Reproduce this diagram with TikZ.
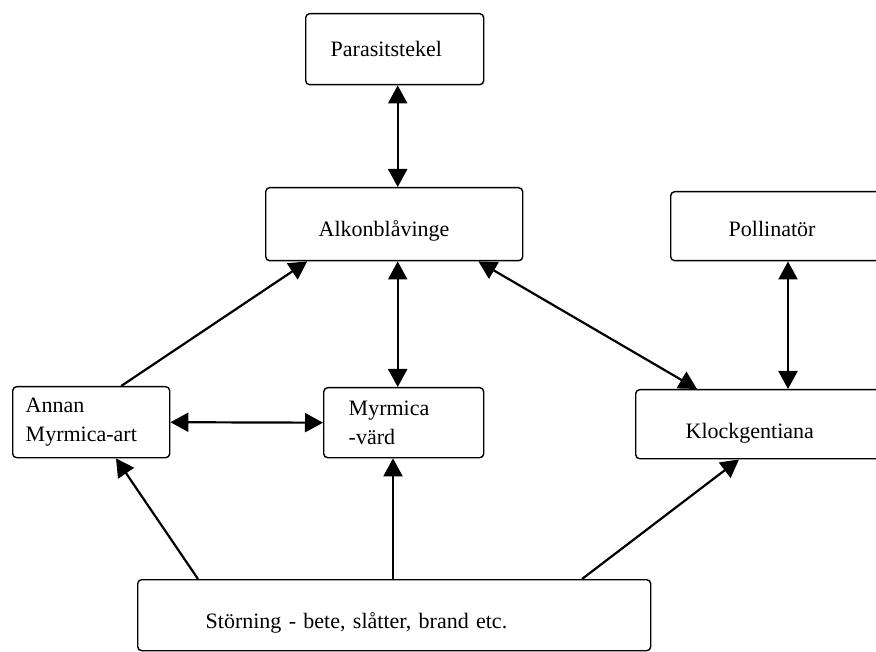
\documentclass[tikz,border=0pt]{standalone}
\usepackage{fontspec}
\setmainfont{Liberation Serif}
\usetikzlibrary{arrows.meta, positioning, calc}

\begin{document}
\begin{tikzpicture}[
  x=1pt, y=-1pt,
  box/.style={rectangle, draw, line width=1.4pt, rounded corners=4pt,
              anchor=north west, align=left, inner ysep=0pt,
              font=\fontsize{22}{29}\selectfont},
  arrow/.style={-{Triangle[length=18pt,width=19pt]}, line width=2.2pt},
  both/.style={{Triangle[length=18pt,width=19pt]}-{Triangle[length=18pt,width=19pt]},
               line width=2.2pt}
]
\clip (0,0) rectangle (876,652);

\node[box, minimum height=71pt, text width=128pt, inner xsep=25pt] (para) at (305,13) {Parasitstekel};
\node[box, minimum height=73pt, text width=151pt, inner xsep=53pt,
      text height=30pt, text depth=5pt] (alkon) at (265,187) {Alkonblåvinge};
\node[box, minimum height=69pt, text width=134pt, inner xsep=58pt,
      text height=26pt, text depth=5pt] (polli) at (670,191) {Pollinatör};
\node[box, minimum height=71pt, text width=131pt, inner xsep=13pt] (annan) at (12,386) {Annan\\Myrmica-art};
\node[box, minimum height=70pt, text width=110pt, inner xsep=25pt] (myr) at (323,387) {Myrmica\\-värd};
\node[box, minimum height=69pt, text width=205pt, inner xsep=50pt,
      text height=33pt, text depth=5pt] (klock) at (635,389) {Klockgentiana};
\node[box, minimum height=71pt, text width=377pt, inner xsep=68pt,
      text height=32pt, text depth=5pt] (storn) at (137,579) {Störning - bete, slåtter, brand etc.};

\draw[both] ([xshift=3pt]para.south) -- ([xshift=3pt]para.south |- alkon.north);
\draw[both] ([xshift=3.5pt]alkon.south) -- ([xshift=3.5pt]alkon.south |- myr.north);
\draw[arrow] ([xshift=30pt]annan.north) -- ([xshift=-87pt]alkon.south);
\draw[both] ([xshift=-45pt]alkon.south east) -- ([xshift=62pt]klock.north west);
\draw[both] ([xshift=118pt]polli.south west) -- ([xshift=153pt]klock.north west);
\draw[both] (annan.east) -- (myr.west);
\draw[arrow] ([xshift=61pt]storn.north west) -- ([xshift=104pt]annan.south west);
\draw[arrow] ([xshift=256pt]storn.north west) -- ([xshift=256pt]storn.north west |- myr.south);
\draw[arrow] ([xshift=445pt]storn.north west) -- ([xshift=104pt]klock.south west);

\end{tikzpicture}
\end{document}
